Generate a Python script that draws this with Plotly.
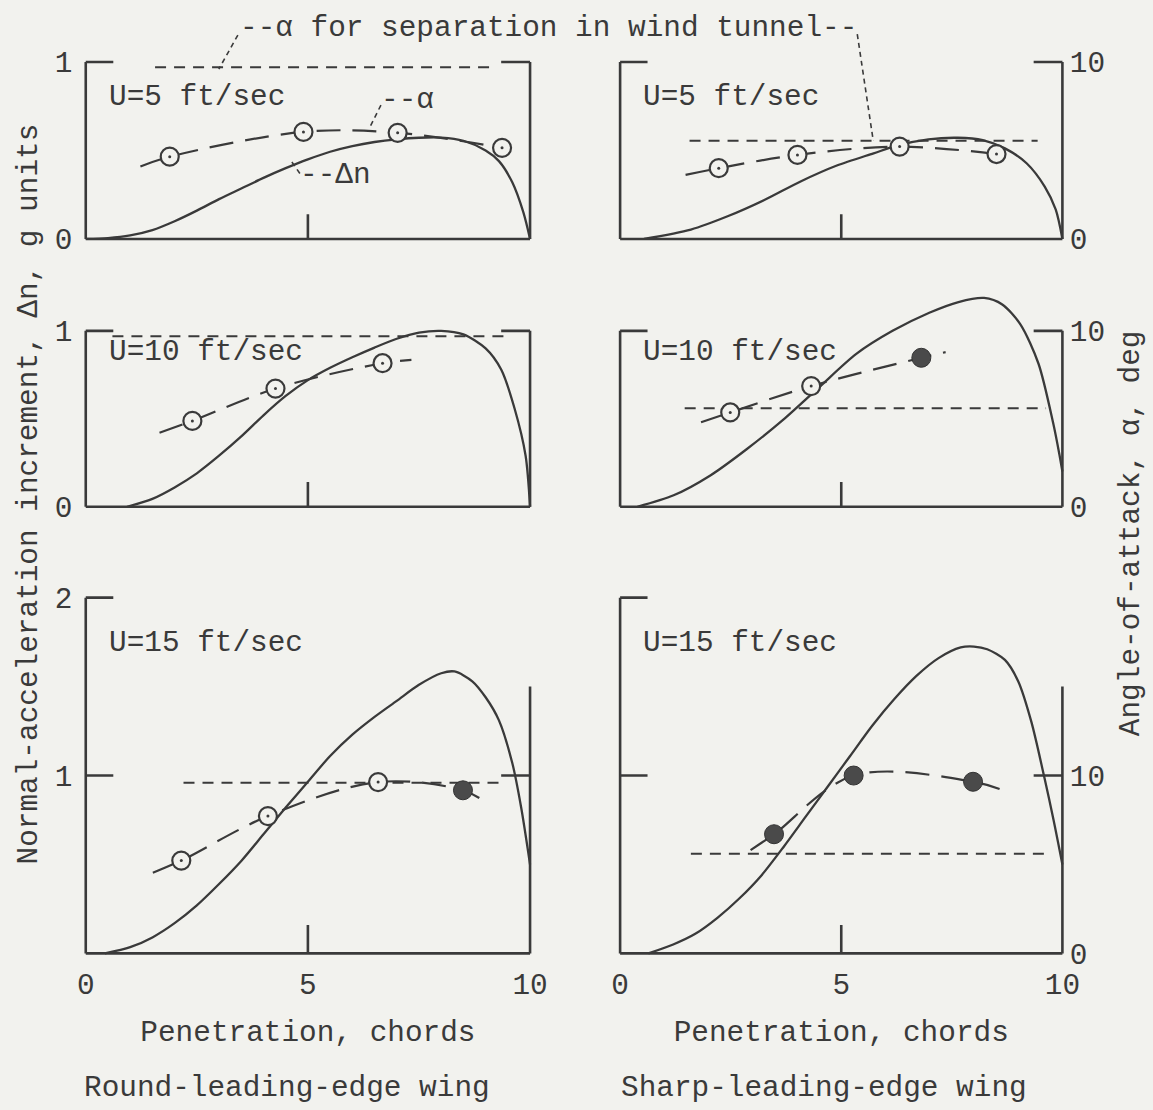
import plotly.graph_objects as go

# ---------------- data ----------------
penetration_ticks = [0, 5, 10]
penetration_labels = ["0", "5", "10"]

# Round-leading-edge wing, U = 5 ft/sec
r5_dn_x = [0, 0.5, 1.0, 1.5, 2.0, 2.5, 3.0, 3.5, 4.0, 4.5, 5.0, 5.5, 6.0, 6.5, 7.0, 7.5, 8.0, 8.5, 9.0, 9.3, 9.6, 9.85, 10]
r5_dn_y = [0, 0.005, 0.02, 0.05, 0.1, 0.16, 0.225, 0.285, 0.345, 0.4, 0.45, 0.493, 0.525, 0.548, 0.563, 0.572, 0.573, 0.555, 0.5, 0.44, 0.32, 0.15, 0]
r5_alpha_x = [1.89, 4.9, 7.02, 9.37]
r5_alpha_y = [4.65, 6.05, 6.0, 5.15]
r5_alpha_filled = [False, False, False, False]
r5_fair_start = [1.23, 4.1]
r5_fair_end = []
r5_sep = [1.56, 9.23, 9.7]

# Sharp-leading-edge wing, U = 5 ft/sec
s5_dn_x = [0.54, 1.6, 2.43, 3.26, 4.08, 4.9, 5.73, 6.3, 6.97, 7.63, 8.2, 8.7, 9.19, 9.6, 9.85, 10]
s5_dn_y = [0, 0.053, 0.128, 0.22, 0.325, 0.415, 0.484, 0.53, 0.563, 0.572, 0.559, 0.512, 0.428, 0.296, 0.165, 0]
s5_alpha_x = [2.23, 4.01, 6.32, 8.51]
s5_alpha_y = [4.0, 4.75, 5.22, 4.8]
s5_alpha_filled = [False, False, False, False]
s5_fair_start = [1.48, 3.62]
s5_fair_end = []
s5_sep = [1.57, 9.44, 5.55]

# Round-leading-edge wing, U = 10 ft/sec
r10_dn_x = [0.93, 1.5, 2.0, 2.5, 3.0, 3.5, 4.0, 4.5, 5.0, 5.5, 6.0, 6.5, 7.0, 7.5, 8.0, 8.5, 9.0, 9.35, 9.65, 9.9, 10]
r10_dn_y = [0, 0.045, 0.11, 0.19, 0.29, 0.4, 0.52, 0.63, 0.72, 0.79, 0.85, 0.905, 0.955, 0.99, 1.0, 0.98, 0.9, 0.78, 0.56, 0.29, 0]
r10_alpha_x = [2.4, 4.27, 6.68]
r10_alpha_y = [4.88, 6.72, 8.16]
r10_alpha_filled = [False, False, False]
r10_fair_start = [1.66, 4.21]
r10_fair_end = [7.33, 8.35]
r10_sep = [0.6, 9.44, 9.7]

# Sharp-leading-edge wing, U = 10 ft/sec
s10_dn_x = [0.39, 1.21, 2.04, 2.86, 3.69, 4.51, 5.34, 6.16, 6.99, 7.65, 8.23, 8.64, 9.05, 9.46, 9.79, 9.93, 10]
s10_dn_y = [0, 0.065, 0.178, 0.327, 0.495, 0.682, 0.869, 1.0, 1.103, 1.164, 1.187, 1.15, 1.037, 0.813, 0.477, 0.3, 0.2]
s10_alpha_x = [2.49, 4.32, 6.81]
s10_alpha_y = [5.36, 6.86, 8.47]
s10_alpha_filled = [False, False, True]
s10_fair_start = [1.83, 4.8]
s10_fair_end = [7.36, 8.79]
s10_sep = [1.46, 9.63, 5.6]

# Round-leading-edge wing, U = 15 ft/sec
r15_dn_x = [0.43, 1.0, 1.5, 2.0, 2.5, 3.0, 3.5, 4.0, 4.5, 5.0, 5.5, 6.0, 6.5, 7.0, 7.5, 8.0, 8.3, 8.7, 9.0, 9.3, 9.6, 9.8, 10]
r15_dn_y = [0, 0.035, 0.09, 0.17, 0.27, 0.39, 0.52, 0.67, 0.82, 0.965, 1.11, 1.23, 1.33, 1.42, 1.51, 1.575, 1.585, 1.53, 1.44, 1.31, 1.07, 0.82, 0.5]
r15_alpha_x = [2.15, 4.1, 6.58, 8.49]
r15_alpha_y = [5.22, 7.72, 9.63, 9.17]
r15_alpha_filled = [False, False, False, True]
r15_fair_start = [1.51, 4.54]
r15_fair_end = [8.99, 8.52]
r15_sep = [2.2, 9.4, 9.6]

# Sharp-leading-edge wing, U = 15 ft/sec
s15_dn_x = [0.64, 1.2, 1.7, 2.2, 2.7, 3.2, 3.7, 4.2, 4.7, 5.2, 5.7, 6.2, 6.7, 7.2, 7.7, 8.0, 8.3, 8.7, 9.0, 9.3, 9.6, 9.8, 10]
s15_dn_y = [0, 0.05, 0.11, 0.2, 0.31, 0.44, 0.6, 0.77, 0.94, 1.11, 1.28, 1.43, 1.56, 1.66, 1.72, 1.725, 1.71, 1.65, 1.53, 1.3, 0.98, 0.75, 0.5]
s15_alpha_x = [3.48, 5.28, 7.98]
s15_alpha_y = [6.7, 10.0, 9.65]
s15_alpha_filled = [True, True, True]
s15_fair_start = [2.95, 5.81]
s15_fair_end = [8.64, 9.19]
s15_sep = [1.6, 9.63, 5.6]

speed_labels = ["U=5 ft/sec", "U=10 ft/sec", "U=15 ft/sec"]
dn_ticks = [[0, 1], [0, 1], [1, 2]]
alpha_ticks = [0, 10]

panels = [
    (r5_dn_x, r5_dn_y, r5_alpha_x, r5_alpha_y, r5_alpha_filled, r5_fair_start, r5_fair_end, r5_sep),
    (s5_dn_x, s5_dn_y, s5_alpha_x, s5_alpha_y, s5_alpha_filled, s5_fair_start, s5_fair_end, s5_sep),
    (r10_dn_x, r10_dn_y, r10_alpha_x, r10_alpha_y, r10_alpha_filled, r10_fair_start, r10_fair_end, r10_sep),
    (s10_dn_x, s10_dn_y, s10_alpha_x, s10_alpha_y, s10_alpha_filled, s10_fair_start, s10_fair_end, s10_sep),
    (r15_dn_x, r15_dn_y, r15_alpha_x, r15_alpha_y, r15_alpha_filled, r15_fair_start, r15_fair_end, r15_sep),
    (s15_dn_x, s15_dn_y, s15_alpha_x, s15_alpha_y, s15_alpha_filled, s15_fair_start, s15_fair_end, s15_sep),
]

# ---------------- styling / geometry ----------------
W, H = 1153, 1110
BG = "#f2f2ee"
INK = "#3a3a3a"
FONT = "Liberation Mono, Courier New, monospace"
FS = 29.4

# geometry given in reference-picture pixels; mapped to figure pixels below
cols_px = [(86, 530), (620, 1062)]
rows_px = [(238, 61), (506, 330), (953, 775)]   # bottom px, px of value 1
row_top = [1.1, 1.28, 2.06]
XPAD = 0.1
YLO = -0.03
frame_top = [1, 1, 2]
right_top = [1, 1, 1.5]
tick5_len = [0.14, 0.14, 0.16]
SX, OX = 0.9846, 4.3
SY, OY = 0.9854, 1.9


def X(px):
    return (px - OX) / SX


def Y(py):
    return (py - OY) / SY


def fx(px):
    return X(px) / W


def fy(py):
    return 1 - Y(py) / H


fig = go.Figure()
layout = dict(
    width=W, height=H, margin=dict(l=0, r=0, t=0, b=0), autosize=False,
    paper_bgcolor=BG, plot_bgcolor="rgba(0,0,0,0)",
    showlegend=False, font=dict(family=FONT, size=FS, color=INK),
)
shapes = []
annotations = []

for i, (dx, dy, ax, ay, af, fs, fe, sep) in enumerate(panels):
    n = i + 1
    r, c = divmod(i, 2)
    x0, x1 = X(cols_px[c][0]), X(cols_px[c][1])
    ppx = (x1 - x0) / 10.0
    bottom, one = Y(rows_px[r][0]), Y(rows_px[r][1])
    ppu = bottom - one
    yhi = row_top[r]
    xd = [(x0 - XPAD * ppx) / W, (x1 + XPAD * ppx) / W]
    yd = [1 - (bottom - YLO * ppu) / H, 1 - (bottom - yhi * ppu) / H]
    xa, ya, yb = f"x{n}", f"y{n}", f"y{n + 6}"

    layout[f"xaxis{n}"] = dict(
        domain=xd, range=[-XPAD, 10 + XPAD], anchor=ya, showgrid=False, zeroline=False,
        showline=False, ticks="", tickvals=penetration_ticks, ticktext=penetration_labels,
        showticklabels=(r == 2), ticklabelstandoff=5,
        title=dict(text="Penetration, chords" if r == 2 else "", standoff=18,
                   font=dict(family=FONT, size=FS, color=INK)),
    )
    layout[f"yaxis{n}"] = dict(
        domain=yd, range=[YLO, yhi], anchor=xa, showgrid=False, zeroline=False, showline=False,
        ticks="", tickvals=dn_ticks[r], showticklabels=(c == 0), ticklabelstandoff=8,
    )
    layout[f"yaxis{n + 6}"] = dict(
        range=[10 * YLO, 10 * yhi], overlaying=ya, side="right", anchor=xa,
        showgrid=False, zeroline=False, showline=False, ticks="",
        tickvals=alpha_ticks, showticklabels=(c == 1), ticklabelstandoff=2,
    )

    # frame (bracket style)
    ft, rt = frame_top[r], right_top[r]
    seg = [((0, 0), (0, ft)), ((0, 0), (10, 0)), ((10, 0), (10, rt)),
           ((0, ft), (0.62, ft)), ((9.35, 1), (10, 1)), ((5, 0), (5, tick5_len[r]))]
    if r == 2:
        seg.append(((0, 1), (0.62, 1)))
    for (sx0, sy0), (sx1, sy1) in seg:
        shapes.append(dict(type="line", xref=xa, yref=ya, x0=sx0, y0=sy0, x1=sx1, y1=sy1,
                           line=dict(color=INK, width=2.6)))

    # separation angle (dashed)
    fig.add_trace(go.Scatter(x=[sep[0], sep[1]], y=[sep[2], sep[2]], xaxis=xa, yaxis=yb,
                             mode="lines", line=dict(color=INK, width=2, dash="11px,8px"),
                             hoverinfo="skip"))
    # normal acceleration increment
    fig.add_trace(go.Scatter(x=dx, y=dy, xaxis=xa, yaxis=ya, mode="lines",
                             line=dict(color=INK, width=2.3, shape="spline", smoothing=0.8),
                             hoverinfo="skip"))
    # fairing through angle-of-attack points
    fxs = [fs[0]] + ax + ([fe[0]] if fe else [])
    fys = [fs[1]] + ay + ([fe[1]] if fe else [])
    fig.add_trace(go.Scatter(x=fxs, y=fys, xaxis=xa, yaxis=yb, mode="lines",
                             line=dict(color=INK, width=2.2, dash="24px,12px", shape="spline",
                                       smoothing=1.0),
                             hoverinfo="skip"))
    ox = [x for x, f in zip(ax, af) if not f]
    oy = [y for y, f in zip(ay, af) if not f]
    bx = [x for x, f in zip(ax, af) if f]
    by = [y for y, f in zip(ay, af) if f]
    if ox:
        fig.add_trace(go.Scatter(x=ox, y=oy, xaxis=xa, yaxis=yb, mode="markers", cliponaxis=False,
                                 marker=dict(symbol="circle", size=18, color=BG,
                                             line=dict(color=INK, width=2.2)),
                                 hoverinfo="skip"))
        fig.add_trace(go.Scatter(x=ox, y=oy, xaxis=xa, yaxis=yb, mode="markers", cliponaxis=False,
                                 marker=dict(symbol="circle", size=3, color=INK),
                                 hoverinfo="skip"))
    if bx:
        fig.add_trace(go.Scatter(x=bx, y=by, xaxis=xa, yaxis=yb, mode="markers", cliponaxis=False,
                                 marker=dict(symbol="circle", size=19, color="#4a4a4a",
                                             line=dict(color="#333333", width=1)),
                                 hoverinfo="skip"))

    # speed label
    annotations.append(dict(text=speed_labels[r], xref=xa, yref=ya, x=0.48,
                            y=[0.8, 0.875, 1.74][r], xanchor="left", yanchor="middle",
                            showarrow=False, font=dict(family=FONT, size=FS, color=INK)))

# axis titles and captions
annotations += [
    dict(text="Normal-acceleration increment, Δn, g units", xref="paper", yref="paper",
         x=fx(30), y=fy(493), textangle=-90, showarrow=False, xanchor="center", yanchor="middle"),
    dict(text="Angle-of-attack, α, deg", xref="paper", yref="paper",
         x=fx(1131), y=fy(532), textangle=-90, showarrow=False, xanchor="center", yanchor="middle"),
    dict(text="Round-leading-edge wing", xref="paper", yref="paper", x=fx(287), y=fy(1088),
         showarrow=False, xanchor="center", yanchor="middle"),
    dict(text="Sharp-leading-edge wing", xref="paper", yref="paper", x=fx(824), y=fy(1088),
         showarrow=False, xanchor="center", yanchor="middle"),
    dict(text="--α for separation in wind tunnel--", xref="paper", yref="paper",
         x=fx(548), y=fy(27), showarrow=False, xanchor="center", yanchor="middle"),
    dict(text="--α", xref="paper", yref="paper", x=fx(379), y=fy(99),
         showarrow=False, xanchor="left", yanchor="middle"),
    dict(text="--Δn", xref="paper", yref="paper", x=fx(298), y=fy(175),
         showarrow=False, xanchor="left", yanchor="middle"),
]
for (a, b), (c2, d) in [((238, 34), (219, 68)), ((857, 33), (873, 140)),
                        ((381, 104), (369, 128)), ((292, 161), (301, 174))]:
    shapes.append(dict(type="line", xref="paper", yref="paper", x0=fx(a), y0=fy(b),
                       x1=fx(c2), y1=fy(d), line=dict(color=INK, width=1.6, dash="5px,4px")))

layout["shapes"] = shapes
layout["annotations"] = annotations
fig.update_layout(**layout)
fig.write_html(
    "out.html",
    config={"displayModeBar": False, "responsive": False},
    post_script=(
        "var h=document.documentElement, b=document.body;"
        "h.style.margin='0'; h.style.padding='0'; h.style.overflow='hidden';"
        "b.style.margin='0'; b.style.padding='0'; b.style.overflow='hidden';"
        f"h.style.background='{BG}'; b.style.background='{BG}';"
    ),
)
